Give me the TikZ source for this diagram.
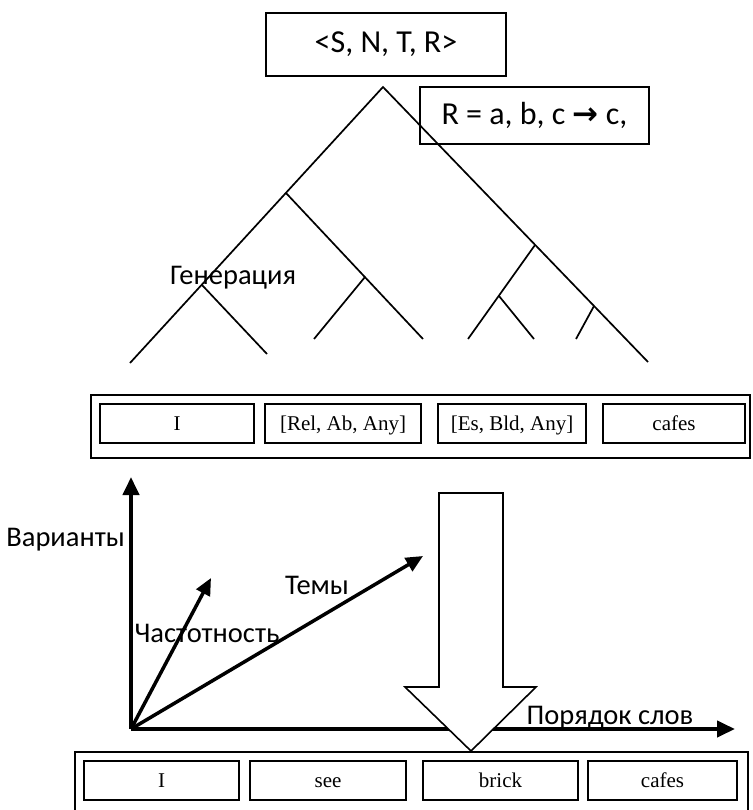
\documentclass[tikz,border=0pt]{standalone}
\usepackage{fontspec}
\setmainfont{Carlito}
\newfontfamily\serifw{Liberation Serif}
\newfontfamily\symf{DejaVu Sans}
\usetikzlibrary{arrows.meta}
\begin{document}
\begin{tikzpicture}[x=1pt,y=-1pt,
  box/.style={draw, line width=1.6pt, rectangle, inner sep=0pt},
  outerbox/.style={draw, line width=1.3pt, rectangle, inner sep=0pt},
  word/.style={draw, line width=1.8pt, rectangle, inner sep=0pt, minimum height=39pt, text height=14pt, text depth=1pt, font=\serifw\fontsize{21}{24}\selectfont},
  lbl/.style={font=\fontsize{28.5}{33}\selectfont, inner sep=0pt},
  biglbl/.style={font=\fontsize{32}{36}\selectfont, inner sep=0pt},
  tree/.style={line width=1.7pt},
  axis/.style={line width=4pt, -{Triangle[length=18pt,width=16pt]}},
  vec/.style={line width=3.5pt, -{Triangle[length=17pt,width=15pt]}},
  bigarrow/.style={draw, line width=1.6pt, fill=white, line join=miter}]
\useasboundingbox (0,0) rectangle (752,810);
\clip (0,0) rectangle (752,810);

% top box
\node[box, biglbl, minimum width=240pt, minimum height=63pt] (top) at (386,44.5) {<S, N, T, R>};

% tree
\coordinate (A) at (383,87);
\coordinate (LL) at (130,363);
\coordinate (RL) at (648,362);
\coordinate (B1) at (286,193);
\coordinate (E1) at (423,339);
\coordinate (B2) at (365,277);
\coordinate (E2) at (314,339);
\coordinate (B0) at (202,285);
\coordinate (E0) at (267,354);
\coordinate (B3) at (535,245);
\coordinate (E3) at (468,339);
\coordinate (B4) at (499,296);
\coordinate (E4) at (534,339);
\coordinate (B5) at (594,306);
\coordinate (E5) at (576,339);
\draw[tree] (LL) -- (A) -- (RL);
\draw[tree] (B1) -- (E1);
\draw[tree] (B2) -- (E2);
\draw[tree] (B0) -- (E0);
\draw[tree] (B3) -- (E3);
\draw[tree] (B4) -- (E4);
\draw[tree] (B5) -- (E5);

\node[box, biglbl, minimum width=229pt, minimum height=57pt] (rule) at (534.5,115.5) {R = a, b, c {\symf\bfseries\fontsize{31}{36}\selectfont →} c,};

\node[lbl] (gen) at (233,278) {Генерация};

% middle row
\node[outerbox, minimum width=659pt, minimum height=63pt] (mid) at (420.5,426.5) {};
\node[word, minimum width=154pt] (m1) at (177,423.5) {I};
\node[word, minimum width=156pt] (m2) at (343,423.5) {[Rel, Ab, Any]};
\node[word, minimum width=148pt] (m3) at (512,423.5) {[Es, Bld, Any]};
\node[word, minimum width=142pt] (m4) at (674,423.5) {cafes};

% axes
\coordinate (O) at (131,729);
\coordinate (Ytip) at (131,477);
\coordinate (Xtip) at (735,729);
\coordinate (Ftip) at (211,578);
\coordinate (Ttip) at (423,556);
\draw[axis] (O) -- (Ytip);
\draw[axis] (O) -- (Xtip);
\draw[vec] (O) -- (Ftip);
\draw[vec] (O) -- (Ttip);

\node[lbl, anchor=east] (var) at (125,540) {Варианты};
\node[lbl] (tem) at (317,585) {Темы};
\node[lbl] (freq) at (207,633) {Частотность};
\node[lbl] (ord) at (610,718) {Порядок слов};

% big arrow
\draw[bigarrow] (439,493) -- (503,493) -- (503,687) -- (536,687) -- (471,751) -- (405,687) -- (439,687) -- cycle;

% bottom row
\draw[outerbox] (75,830) -- (75,752) -- (748,752) -- (748,830);
\node[word, minimum width=155pt] (b1) at (161.5,780.5) {I};
\node[word, minimum width=156pt] (b2) at (328,780.5) {see};
\node[word, minimum width=155pt] (b3) at (500.5,780.5) {brick};
\node[word, minimum width=149pt] (b4) at (662.5,780.5) {cafes};
\end{tikzpicture}
\end{document}
